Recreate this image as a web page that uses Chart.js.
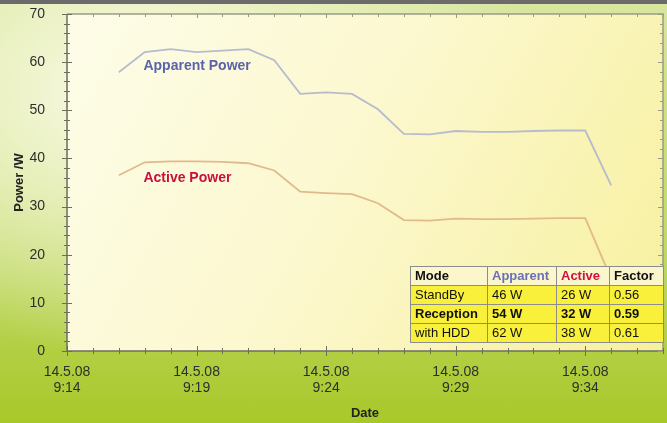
<!DOCTYPE html>
<html>
<head>
<meta charset="utf-8">
<script src="https://cdn.jsdelivr.net/npm/chart.js@4"></script>
<style>
  html, body { margin: 0; padding: 0; }
  body {
    width: 667px; height: 423px; overflow: hidden; position: relative;
    background:
      radial-gradient(ellipse 60% 62% at 22% 22%, rgba(252,252,236,1) 0%, rgba(236,242,196,0.85) 45%, rgba(200,222,110,0) 100%),
      linear-gradient(to bottom, #d8e6a0 0%, #c2da6c 55%, #a8c82a 100%);
    font-family: "Liberation Sans", Arial, sans-serif;
  }
  #topband { position: absolute; left: 0; top: 0; width: 667px; height: 4px; background: #6b6b6b; }
  #wrap { position: absolute; left: 0; top: 0; width: 667px; height: 423px; }
  #modes {
    position: absolute; left: 410px; top: 266px;
    border-collapse: collapse; font-size: 13px; color: #111;
  }
  #modes td {
    border: 1.5px solid #8c8c8c; height: 18px; padding: 0 0 0 4px;
    background: #f8f03a; white-space: nowrap; line-height: 18px;
  }
  #modes tr.head td { background: #fbf6cc; font-weight: bold; }
  #modes tr.bold td { font-weight: bold; }
</style>
</head>
<body>
<div id="topband"></div>
<div id="wrap"><canvas id="chart" width="667" height="423"></canvas></div>
<table id="modes"></table>
<script>
// measurement times (14.5.08) and readings in watts
const dateLabel = "14.5.08";
const startTime = "9:14";
const times = ["9:16", "9:17", "9:18", "9:19", "9:20", "9:21", "9:22", "9:23", "9:24", "9:25",
  "9:26", "9:27", "9:28", "9:29", "9:30", "9:31", "9:32", "9:33", "9:34", "9:35"];
const apparentPower = [57.9, 62.1, 62.7, 62.1, 62.4, 62.7, 60.4, 53.4, 53.7, 53.4,
  50.2, 45.1, 45.0, 45.7, 45.5, 45.5, 45.7, 45.8, 45.8, 34.4];
const activePower = [36.5, 39.2, 39.4, 39.4, 39.3, 39.0, 37.5, 33.1, 32.8, 32.6,
  30.7, 27.2, 27.1, 27.5, 27.4, 27.4, 27.5, 27.6, 27.6, 15.0];

// summary table
const modeHeader = ["Mode", "Apparent", "Active", "Factor"];
const modeNames = ["StandBy", "Reception", "with HDD"];
const modeApparent = ["46 W", "54 W", "62 W"];
const modeActive = ["26 W", "32 W", "38 W"];
const modeFactor = ["0.56", "0.59", "0.61"];

const apparentColor = "#b7bccd";
const activeColor = "#e2b98a";

function toMinutes(t) {
  const [h, m] = t.split(":").map(Number);
  return h * 60 + m;
}
const t0 = toMinutes(startTime);
const xs = times.map((t) => toMinutes(t) - t0);

function fmtTime(min) {
  const total = t0 + min;
  return Math.floor(total / 60) + ":" + String(total % 60).padStart(2, "0");
}

// background, ticks on all sides, series labels
const framePlugin = {
  id: "frame",
  beforeDraw(chart) {
    const { ctx, chartArea: a } = chart;
    const g = ctx.createLinearGradient(a.left, a.top, a.right, a.bottom);
    g.addColorStop(0, "#fdfce8");
    g.addColorStop(0.45, "#fcf8d0");
    g.addColorStop(1, "#f7f09e");
    ctx.save();
    ctx.fillStyle = g;
    ctx.fillRect(a.left, a.top, a.right - a.left, a.bottom - a.top);
    ctx.restore();
  },
  afterDatasetsDraw(chart) {
    const { ctx, chartArea: a, scales } = chart;
    const x = scales.x, y = scales.y;
    ctx.save();
    // frame lines
    ctx.lineWidth = 1.5;
    ctx.strokeStyle = "#9a9a86";
    ctx.beginPath();
    ctx.moveTo(a.left, a.top); ctx.lineTo(a.right, a.top); ctx.lineTo(a.right, a.bottom);
    ctx.stroke();
    ctx.strokeStyle = "#6e6e5e";
    ctx.beginPath();
    ctx.moveTo(a.left, a.top); ctx.lineTo(a.left, a.bottom); ctx.lineTo(a.right, a.bottom);
    ctx.stroke();
    // minute ticks
    ctx.lineWidth = 1;
    for (let m = 0; m <= x.max; m++) {
      const px = Math.round(x.getPixelForValue(m)) + 0.5;
      const major = m % 5 === 0;
      ctx.strokeStyle = "#6e6e5e";
      ctx.beginPath();
      ctx.moveTo(px, a.bottom - (major ? 5 : 3));
      ctx.lineTo(px, a.bottom + (major ? 5 : 3));
      ctx.stroke();
      ctx.strokeStyle = "#9a9a86";
      ctx.beginPath();
      ctx.moveTo(px, a.top);
      ctx.lineTo(px, a.top + (major ? 4 : 3));
      ctx.stroke();
    }
    // power ticks every 2 W
    for (let v = 0; v <= y.max; v += 2) {
      const py = Math.round(y.getPixelForValue(v)) + 0.5;
      const major = v % 10 === 0;
      ctx.strokeStyle = "#6e6e5e";
      ctx.beginPath();
      ctx.moveTo(a.left - (major ? 5 : 3), py);
      ctx.lineTo(a.left + (major ? 5 : 3), py);
      ctx.stroke();
      ctx.strokeStyle = "#9a9a86";
      ctx.beginPath();
      ctx.moveTo(a.right, py);
      ctx.lineTo(a.right - (major ? 5 : 3), py);
      ctx.stroke();
    }
    // series labels
    ctx.font = "bold 14px 'Liberation Sans', Arial, sans-serif";
    ctx.textBaseline = "middle";
    ctx.fillStyle = "#5b63ad";
    ctx.fillText("Apparent Power", x.getPixelForValue(2.95), y.getPixelForValue(59.1));
    ctx.fillStyle = "#c8103e";
    ctx.fillText("Active Power", x.getPixelForValue(2.95), y.getPixelForValue(36.0));
    ctx.restore();
  },
};

const ctx = document.getElementById("chart").getContext("2d");
const powerChart = new Chart(ctx, {
  type: "line",
  data: {
    datasets: [
      {
        label: "Apparent Power",
        data: xs.map((m, i) => ({ x: m, y: apparentPower[i] })),
        borderColor: apparentColor,
        borderWidth: 1.8,
        pointRadius: 0,
        tension: 0,
      },
      {
        label: "Active Power",
        data: xs.map((m, i) => ({ x: m, y: activePower[i] })),
        borderColor: activeColor,
        borderWidth: 1.8,
        pointRadius: 0,
        tension: 0,
      },
    ],
  },
  options: {
    responsive: false,
    animation: false,
    layout: { padding: { top: 14, right: 4, left: 0, bottom: 0 } },
    plugins: { legend: { display: false }, tooltip: { enabled: false } },
    scales: {
      x: {
        type: "linear",
        min: 0,
        max: 23,
        afterFit: (s) => {
          s.height = 72;
          s.paddingLeft = 0;
          s.paddingRight = 0;
        },
        afterBuildTicks: (s) => {
          s.ticks = [0, 5, 10, 15, 20].map((v) => ({ value: v }));
        },
        grid: { display: false },
        border: { display: false },
        ticks: {
          padding: 5,
          color: "#2e2e2e",
          font: { size: 14, family: "'Liberation Sans', Arial, sans-serif", lineHeight: 1.15 },
          maxRotation: 0,
          callback: (v) => [dateLabel, fmtTime(v)],
        },
        title: {
          display: true,
          text: "Date",
          color: "#222",
          font: { size: 13, weight: "bold", family: "'Liberation Sans', Arial, sans-serif" },
          padding: { top: 0, bottom: 2 },
        },
      },
      y: {
        min: 0,
        max: 70,
        afterFit: (s) => {
          s.width = 67;
          s.paddingTop = 0;
          s.paddingBottom = 0;
        },
        grid: { display: false },
        border: { display: false },
        ticks: {
          stepSize: 10,
          padding: 14,
          color: "#2e2e2e",
          font: { size: 14, family: "'Liberation Sans', Arial, sans-serif" },
        },
        title: {
          display: true,
          text: "Power /W",
          color: "#222",
          font: { size: 13, weight: "bold", family: "'Liberation Sans', Arial, sans-serif" },
          padding: { top: 12, bottom: 0 },
        },
      },
    },
  },
  plugins: [framePlugin],
});

// build the mode table
const table = document.getElementById("modes");
const widths = [72, 64, 48, 49];
const headColors = ["#111", "#6a70b8", "#d0103e", "#111"];
let html = '<tr class="head">' + modeHeader.map((h, i) =>
  `<td style="width:${widths[i]}px;color:${headColors[i]}">${h}</td>`).join("") + "</tr>";
modeNames.forEach((name, i) => {
  const cls = name === "Reception" ? ' class="bold"' : "";
  html += `<tr${cls}><td>${name}</td><td>${modeApparent[i]}</td><td>${modeActive[i]}</td><td>${modeFactor[i]}</td></tr>`;
});
table.innerHTML = html;
</script>
</body>
</html>
